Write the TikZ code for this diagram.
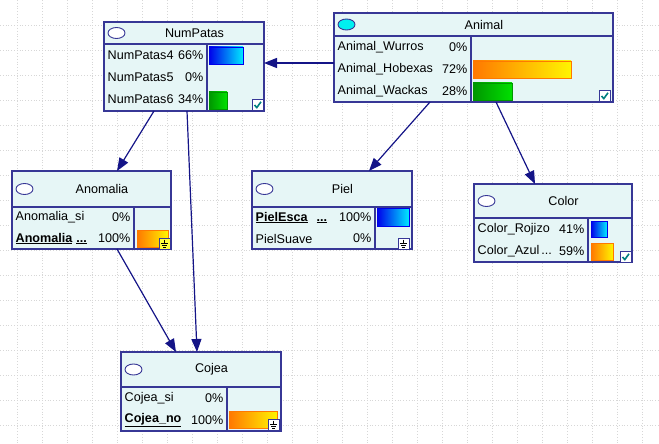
\documentclass[tikz,border=0pt]{standalone}
\usepackage{fontspec}
\setmainfont{Liberation Sans}
\usetikzlibrary{arrows.meta,calc,positioning}
\definecolor{nodefill}{RGB}{230,246,246}
\definecolor{nodeline}{RGB}{55,55,150}
\definecolor{arcline}{RGB}{20,20,135}
\definecolor{gridcol}{RGB}{215,215,215}
\definecolor{checkcol}{RGB}{0,128,128}
\definecolor{bulbcyan}{RGB}{0,240,240}
\definecolor{blueL}{RGB}{0,0,235}
\definecolor{blueR}{RGB}{0,235,255}
\definecolor{greenL}{RGB}{0,150,0}
\definecolor{greenR}{RGB}{0,225,0}
\definecolor{orangeL}{RGB}{255,120,0}
\definecolor{orangeR}{RGB}{255,245,0}
\definecolor{earthbg}{RGB}{255,255,60}
\newcommand{\netfont}{\fontsize{12.6}{15}\selectfont}
% box of one variable: name, left, top, right, bottom, header line, divider, title, bulb colour
\newcommand{\netnode}[9]{%
  \node[nbox, minimum width={#4-#2}, minimum height={#5-#3}] (#1) at ({(#2+#4)/2},{(#3+#5)/2}) {};
  \draw[inner] (#2,#6) -- (#4,#6) (#7,#6) -- (#7,#5);
  \draw[inner, line width=0.9pt, fill=#9] ({#2+12.5},{(#3+#6)/2}) ellipse (8.5 and 5.5);
  \node[ttl] (#1-title) at ({(#2+21+#4)/2},{(#3+#6)/2}) {#8};}
% one state: name, left, divider, y, state, percent
\newcommand{\staterow}[6]{%
  \node[st] (#1) at ({#2+3.5},#4) {#5};
  \node[pc] (#1-pct) at ({#3-3.5},#4) {#6};}
% belief bar: x1, y1, x2, y2, left colour, right colour
\newcommand{\netbar}[6]{%
  \shade[left color=#5, right color=#6] (#1,#2) rectangle (#3,#4);
  \draw[#5, line width=0.8pt] (#1,#2) rectangle (#3,#4);}
\newcommand{\checkbox}[2]{%
  \draw[nodeline, fill=white, line width=0.8pt] (#1,#2) rectangle ({#1+11},{#2+11});
  \draw[checkcol, line width=1.6pt] ({#1+2.5},{#2+6}) -- ({#1+4.8},{#2+8.6}) -- ({#1+9},{#2+2.8});}
\newcommand{\earth}[3]{%
  \draw[nodeline, fill=#3, line width=0.8pt] (#1,#2) rectangle ({#1+11},{#2+11});
  \draw[black, line width=0.6pt] ({#1+5.5},{#2+1.5}) -- ({#1+5.5},{#2+5})
    ({#1+1.8},{#2+5}) -- ({#1+9.2},{#2+5})
    ({#1+3},{#2+7}) -- ({#1+8},{#2+7})
    ({#1+4.3},{#2+9}) -- ({#1+6.7},{#2+9});}

\begin{document}
\begin{tikzpicture}[x=1pt,y=-1pt,
  nbox/.style={draw=nodeline, fill=nodefill, line width=1.4pt, inner sep=0pt, outer sep=0pt},
  inner/.style={draw=nodeline, line width=1.1pt},
  ttl/.style={font=\netfont, inner sep=0pt},
  st/.style={font=\netfont, anchor=west, inner sep=0pt},
  pc/.style={font=\netfont, anchor=east, inner sep=0pt},
  lnk/.style={draw=arcline, line width=1.2pt, -{Triangle[length=13pt,width=10pt]}}]
\useasboundingbox (0,0) rectangle (659,444);
% background grid
\foreach \gx in {17,42,...,659}
  \draw[gridcol, dotted, line width=0.8pt] (\gx,0) -- (\gx,444);
\foreach \gy in {25,50,...,444}
  \draw[gridcol, dotted, line width=0.8pt] (0,\gy) -- (659,\gy);

% NumPatas
\netnode{numpatas}{104}{22}{264}{111}{44}{207}{NumPatas}{white}
\staterow{numpatas4}{104}{207}{55}{NumPatas4}{66\%}
\staterow{numpatas5}{104}{207}{77}{NumPatas5}{0\%}
\staterow{numpatas6}{104}{207}{99}{NumPatas6}{34\%}
\netbar{209}{47}{243}{64}{blueL}{blueR}
\netbar{209}{92}{227}{109}{greenL}{greenR}
\checkbox{252}{99}

% Animal
\netnode{animal}{334}{13}{613}{102}{36}{471}{Animal}{bulbcyan}
\staterow{wurros}{334}{471}{47}{Animal\_Wurros}{0\%}
\staterow{hobexas}{334}{471}{69}{Animal\_Hobexas}{72\%}
\staterow{wackas}{334}{471}{91}{Animal\_Wackas}{28\%}
\netbar{473}{61}{571}{78}{orangeL}{orangeR}
\netbar{473}{83}{512}{100}{greenL}{greenR}
\checkbox{599}{90}

% Anomalia
\netnode{anomalia}{12}{171}{171}{249}{207}{134}{Anomalia}{white}
\staterow{anomaliasi}{12}{134}{217.5}{Anomalia\_si}{0\%}
\staterow{anomaliano}{12}{134}{238.5}{\underline{\textbf{Anomalia}}\hspace{4pt}\underline{\textbf{...}}}{100\%}
\netbar{137}{230}{168}{247}{orangeL}{orangeR}
\earth{159}{238}{earthbg}

% Piel
\netnode{piel}{252}{171}{412}{249}{207}{375}{Piel}{white}
\staterow{pielesca}{252}{375}{217.5}{\underline{\textbf{PielEsca}}\hspace{9pt}\underline{\textbf{...}}}{100\%}
\staterow{pielsuave}{252}{375}{238.5}{PielSuave}{0\%}
\netbar{377}{208}{409}{226}{blueL}{blueR}
\earth{398}{238}{white}

% Color
\netnode{color}{474}{184}{632}{262}{218}{588}{Color}{white}
\staterow{rojizo}{474}{588}{229}{Color\_Rojizo}{41\%}
\staterow{azul}{474}{588}{251}{Color\_Azul\,...}{59\%}
\netbar{591}{221}{607}{237}{blueL}{blueR}
\netbar{591}{243}{613}{260}{orangeL}{orangeR}
\checkbox{620}{251}

% Cojea
\netnode{cojea}{121}{352}{281}{431}{387}{227}{Cojea}{white}
\staterow{cojeasi}{121}{227}{398}{Cojea\_si}{0\%}
\staterow{cojeano}{121}{227}{420}{\underline{\textbf{Cojea\_no}}}{100\%}
\netbar{229}{411}{277}{428}{orangeL}{orangeR}
\earth{268}{419}{white}

% arcs
\draw[lnk] ([yshift=-5.5pt]animal.west) -- ([yshift=-5.5pt]animal.west -| numpatas.east);
\draw[lnk] ([xshift=-43.5pt]animal.south) -- ([xshift=37pt]piel.north);
\draw[lnk] ([xshift=22.5pt]animal.south) -- ([xshift=-18pt]color.north);
\draw[lnk] ([xshift=-30pt]numpatas.south) -- ([xshift=25.5pt]anomalia.north);
\draw[lnk] ([xshift=3pt]numpatas.south) -- ([xshift=-4pt]cojea.north);
\draw[lnk] ([xshift=25.5pt]anomalia.south) -- ([xshift=-25pt]cojea.north);
\end{tikzpicture}
\end{document}
